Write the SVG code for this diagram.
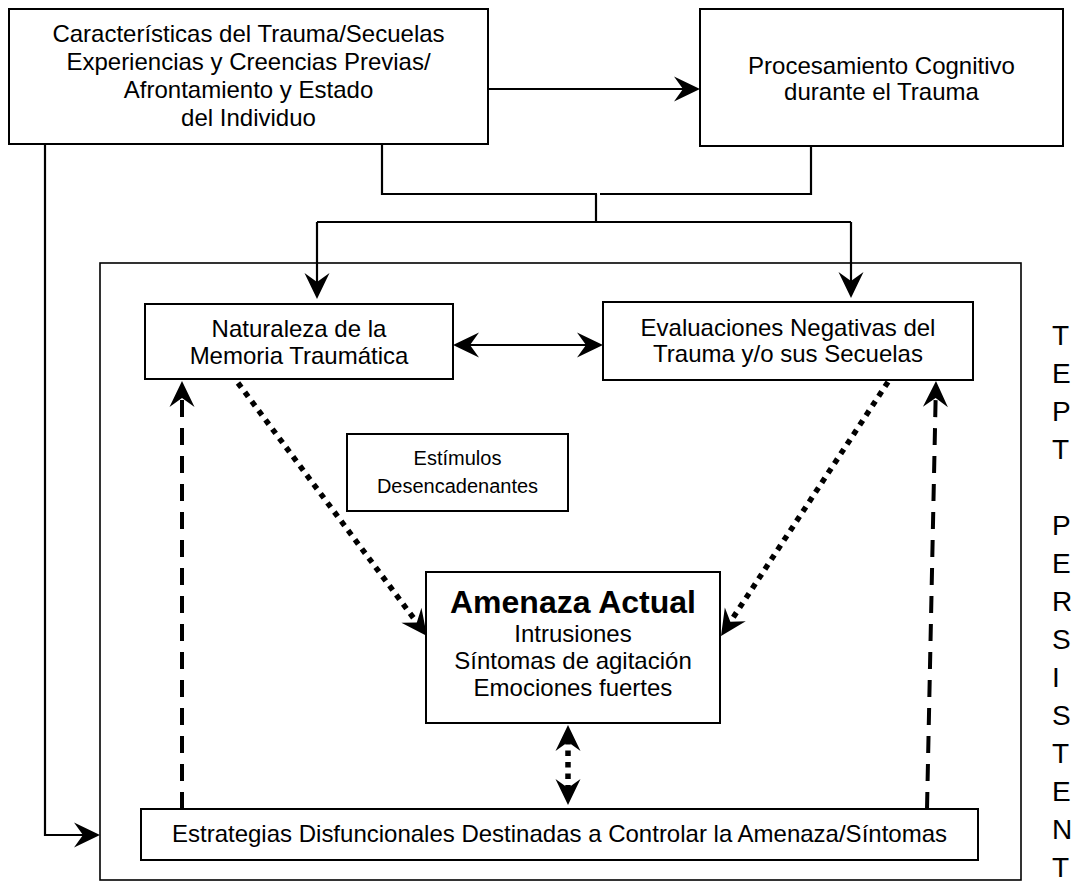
<svg xmlns="http://www.w3.org/2000/svg" width="1071" height="884" viewBox="0 0 1071 884">
<style>
  .box{fill:#fff;stroke:#000;stroke-width:2}
  .outer{fill:none;stroke:#000;stroke-width:1.6}
  .t{font-family:"Liberation Sans",Arial,sans-serif;font-size:24px;fill:#000;text-anchor:middle}
  .small{font-size:20px}
  .title{font-size:32px;font-weight:bold}
  .side{font-family:"Liberation Sans",Arial,sans-serif;font-size:28px;fill:#000}
  .line{fill:none;stroke:#000;stroke-width:2.2}
  .dash{fill:none;stroke:#000;stroke-width:4;stroke-dasharray:17 11}
  .dot{fill:none;stroke:#000;stroke-width:5.5;stroke-dasharray:5.5 6}
</style>
<defs>
  <marker id="ah" viewBox="-27 -13 28 26" refX="-4" refY="0" markerWidth="28" markerHeight="26" markerUnits="userSpaceOnUse" orient="auto-start-reverse">
    <path d="M0,0 L-26,-12.5 L-17,0 L-26,12.5 Z" fill="#000"/>
  </marker>
  <marker id="ahd" viewBox="-27 -13 28 26" refX="-14" refY="0" markerWidth="28" markerHeight="26" markerUnits="userSpaceOnUse" orient="auto-start-reverse">
    <path d="M0,0 L-26,-12.5 L-17,0 L-26,12.5 Z" fill="#000"/>
  </marker>
</defs>
<rect width="1071" height="884" fill="#fff"/>

<g id="outer-frame">
  <rect class="outer" x="100" y="263" width="921" height="617"/>
</g>

<g id="connectors">
  <path class="line" d="M488,89 H696" marker-end="url(#ah)"/>
  <path class="line" d="M382,144 V194 H597"/>
  <path class="line" d="M600,194 H811 V146"/>
  <path class="line" d="M596,194 V222"/>
  <path class="line" d="M317,222 H851"/>
  <path class="line" d="M317,222 V295" marker-end="url(#ah)"/>
  <path class="line" d="M851,222 V294" marker-end="url(#ah)"/>
  <path class="line" d="M457,345 H599" marker-start="url(#ah)" marker-end="url(#ah)"/>
  <path class="line" d="M45,144 V835 H96" marker-end="url(#ah)"/>
  <path class="dash" d="M182,809 V395" marker-end="url(#ahd)"/>
  <path class="dash" d="M927,809 L935.7,395" marker-end="url(#ahd)"/>
  <path class="dot" d="M238,383 L418.6,624.8" marker-end="url(#ahd)"/>
  <path class="dot" d="M888,382 L728.7,624.3" marker-end="url(#ahd)"/>
  <path class="dot" d="M568,739 V791" marker-start="url(#ahd)" marker-end="url(#ahd)"/>
</g>

<g id="n-caracteristicas">
  <rect class="box" x="9" y="9" width="479" height="135"/>
  <text class="t" x="248.5" y="42">Características del Trauma/Secuelas</text>
  <text class="t" x="248.5" y="70">Experiencias y Creencias Previas/</text>
  <text class="t" x="248.5" y="98">Afrontamiento y Estado</text>
  <text class="t" x="248.5" y="126">del Individuo</text>
</g>

<g id="n-procesamiento">
  <rect class="box" x="700" y="9" width="363" height="137"/>
  <text class="t" x="881.5" y="74">Procesamiento Cognitivo</text>
  <text class="t" x="881.5" y="100">durante el Trauma</text>
</g>

<g id="n-naturaleza">
  <rect class="box" x="145" y="304" width="308" height="75"/>
  <text class="t" x="299" y="337">Naturaleza de la</text>
  <text class="t" x="299" y="364">Memoria Traumática</text>
</g>

<g id="n-evaluaciones">
  <rect class="box" x="603" y="302" width="370" height="78"/>
  <text class="t" x="788" y="336">Evaluaciones Negativas del</text>
  <text class="t" x="788" y="362">Trauma y/o sus Secuelas</text>
</g>

<g id="n-estimulos">
  <rect class="box" x="347" y="434" width="221" height="77"/>
  <text class="t small" x="457.5" y="465">Estímulos</text>
  <text class="t small" x="457.5" y="493">Desencadenantes</text>
</g>

<g id="n-amenaza">
  <rect class="box" x="426" y="572" width="294" height="151"/>
  <text class="t title" x="573" y="613">Amenaza Actual</text>
  <text class="t" x="573" y="642">Intrusiones</text>
  <text class="t" x="573" y="669">Síntomas de agitación</text>
  <text class="t" x="573" y="696">Emociones fuertes</text>
</g>

<g id="n-estrategias">
  <rect class="box" x="141" y="809" width="837" height="51"/>
  <text class="t" x="559.5" y="842" textLength="775" lengthAdjust="spacingAndGlyphs">Estrategias Disfuncionales Destinadas a Controlar la Amenaza/Síntomas</text>
</g>

<g id="side-label">
  <text class="side" x="1052" y="345">T</text>
  <text class="side" x="1052" y="383">E</text>
  <text class="side" x="1052" y="421">P</text>
  <text class="side" x="1052" y="459">T</text>
  <text class="side" x="1052" y="535">P</text>
  <text class="side" x="1052" y="573">E</text>
  <text class="side" x="1052" y="611">R</text>
  <text class="side" x="1052" y="649">S</text>
  <text class="side" x="1052" y="687">I</text>
  <text class="side" x="1052" y="725">S</text>
  <text class="side" x="1052" y="763">T</text>
  <text class="side" x="1052" y="801">E</text>
  <text class="side" x="1052" y="839">N</text>
  <text class="side" x="1052" y="877">T</text>
</g>
</svg>
